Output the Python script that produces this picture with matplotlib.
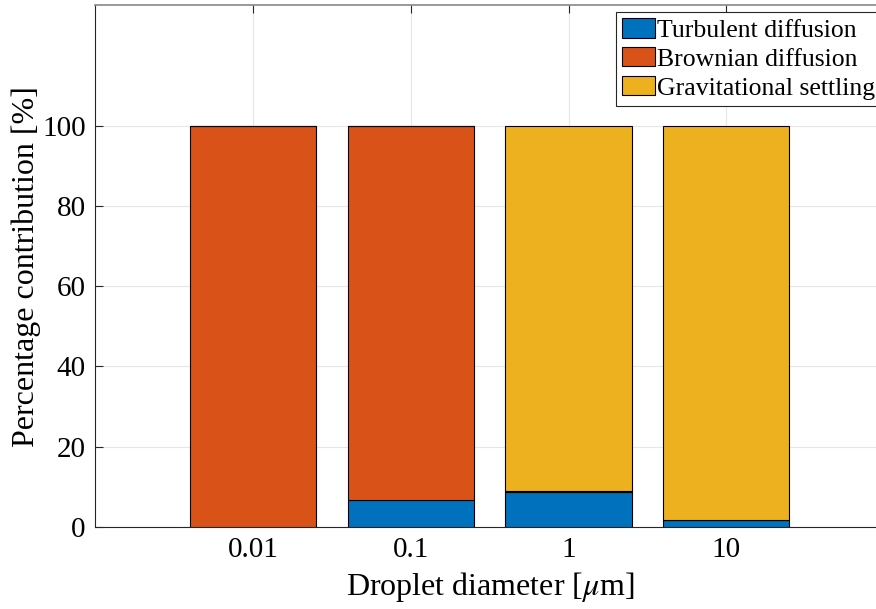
import matplotlib
matplotlib.use('Agg')
import matplotlib.pyplot as plt
import numpy as np

plt.rcParams['font.family'] = ['Liberation Serif', 'DejaVu Serif']
plt.rcParams['mathtext.fontset'] = 'stix'

diameters = ['0.01', '0.1', '1', '10']
turbulent = [0.0, 6.7, 8.8, 1.7]
brownian = [100.0, 93.3, 0.2, 0.0]
gravitational = [0.0, 0.0, 91.0, 98.3]

series = [('Turbulent diffusion', turbulent, '#0072BD'),
          ('Brownian diffusion', brownian, '#D95319'),
          ('Gravitational settling', gravitational, '#EDB120')]

fig = plt.figure(figsize=(8.76, 6.09), dpi=100)
ax = fig.add_axes([0.109, 0.1346, 0.900, 0.857])

x = np.arange(1, len(diameters) + 1)
bottom = np.zeros(len(diameters))
for name, vals, col in series:
    ax.bar(x, vals, width=0.8, bottom=bottom, color=col, edgecolor='black',
           linewidth=0.8, label=name, zorder=3)
    bottom += np.array(vals)

ax.set_xlim(0, 5)
ax.set_ylim(0, 130)
ax.set_xticks(x)
ax.set_xticklabels(diameters)
ax.set_yticks(np.arange(0, 101, 20))
ax.grid(True, color='#e6e6e6', linewidth=0.8, zorder=0)
ax.tick_params(direction='in', top=True, right=True, labelsize=21, length=6,
               color='#262626', pad=7)
for s in ax.spines.values():
    s.set_color('#262626')
    s.set_linewidth(0.8)
ax.spines['top'].set_color('#888888')
ax.spines['top'].set_linewidth(1.2)

ax.set_xlabel(r'Droplet diameter [$\mu$m]', fontsize=23, labelpad=5)
ax.set_ylabel('Percentage contribution [%]', fontsize=23, labelpad=1)

leg = ax.legend(loc='upper left', bbox_to_anchor=(616 / 876, 1 - 12 / 609),
                bbox_transform=fig.transFigure, fontsize=18.5, frameon=True,
                fancybox=False, edgecolor='#262626', framealpha=1,
                borderpad=0.25, labelspacing=0.2, handlelength=1.28,
                handleheight=0.78, handletextpad=0.05, borderaxespad=0)
leg.get_frame().set_linewidth(0.8)

fig.savefig('out.png', dpi=100)
